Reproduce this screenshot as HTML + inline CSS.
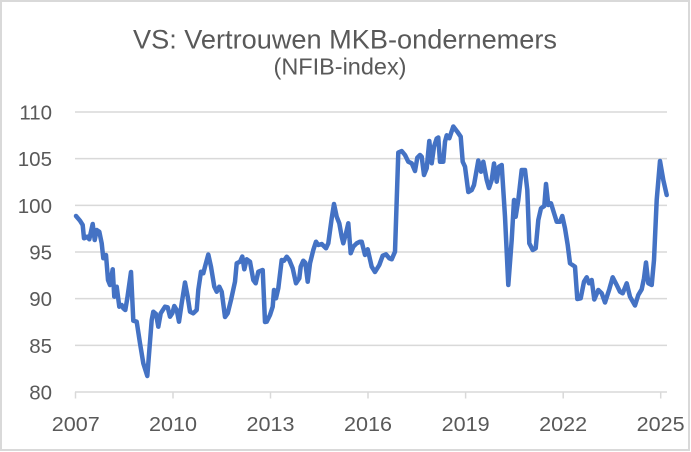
<!DOCTYPE html>
<html>
<head>
<meta charset="utf-8">
<style>
html,body{margin:0;padding:0;background:#fff;}
svg{display:block;}
text{font-family:"Liberation Sans",Arial,sans-serif;fill:#595959;}
</style>
</head>
<body>
<svg width="691" height="452" viewBox="0 0 691 452" xmlns="http://www.w3.org/2000/svg">
<rect x="0" y="0" width="691" height="452" fill="#fff"/>
<rect x="1" y="1" width="688" height="449" fill="none" stroke="#d9d9d9" stroke-width="2"/>
<text x="345" y="48.5" font-size="27" text-anchor="middle" textLength="424" lengthAdjust="spacingAndGlyphs">VS: Vertrouwen MKB-ondernemers</text>
<text x="340" y="74.5" font-size="23.5" text-anchor="middle" textLength="133" lengthAdjust="spacingAndGlyphs">(NFIB-index)</text>
<g stroke="#d9d9d9" stroke-width="1.5">
<line x1="75" y1="112" x2="667" y2="112"/>
<line x1="75" y1="158.67" x2="667" y2="158.67"/>
<line x1="75" y1="205.33" x2="667" y2="205.33"/>
<line x1="75" y1="252" x2="667" y2="252"/>
<line x1="75" y1="298.67" x2="667" y2="298.67"/>
<line x1="75" y1="345.33" x2="667" y2="345.33"/>
<line x1="75" y1="392" x2="667" y2="392"/>
<line x1="75.5" y1="392" x2="75.5" y2="398.5"/>
<line x1="173" y1="392" x2="173" y2="398.5"/>
<line x1="270.5" y1="392" x2="270.5" y2="398.5"/>
<line x1="368" y1="392" x2="368" y2="398.5"/>
<line x1="465.6" y1="392" x2="465.6" y2="398.5"/>
<line x1="563.2" y1="392" x2="563.2" y2="398.5"/>
<line x1="660.7" y1="392" x2="660.7" y2="398.5"/>
</g>
<g font-size="20.5" text-anchor="end">
<text x="52" y="119.5">110</text>
<text x="52" y="166.2">105</text>
<text x="52" y="212.8">100</text>
<text x="52" y="259.5">95</text>
<text x="52" y="306.2">90</text>
<text x="52" y="352.8">85</text>
<text x="52" y="399.5">80</text>
</g>
<g font-size="20.5" text-anchor="middle">
<text x="75.8" y="431" textLength="48" lengthAdjust="spacingAndGlyphs">2007</text>
<text x="173" y="431" textLength="48" lengthAdjust="spacingAndGlyphs">2010</text>
<text x="270.5" y="431" textLength="48" lengthAdjust="spacingAndGlyphs">2013</text>
<text x="368" y="431" textLength="48" lengthAdjust="spacingAndGlyphs">2016</text>
<text x="465.6" y="431" textLength="48" lengthAdjust="spacingAndGlyphs">2019</text>
<text x="563.2" y="431" textLength="48" lengthAdjust="spacingAndGlyphs">2022</text>
<text x="660.7" y="431" textLength="48" lengthAdjust="spacingAndGlyphs">2025</text>
</g>
<polyline fill="none" stroke="#4472C4" stroke-width="4.5" stroke-linejoin="round" stroke-linecap="round" points="
76,216 80,220.7 82.7,225 84,238.3 87.3,236.7 89.3,239.3 92.7,224 94.7,240 96.7,230 99.3,231.7
101.7,243.3 103.3,258.3 106,255 108,280 110,285 112.7,269.3 114.3,296.7 116.7,286.7 119.3,306.7 121.7,305
123.3,308.3 125.3,310 127.3,298.3 131,272 133.3,320.7 136.7,321.7 140,343.3 143.3,363.3 147.3,376 151.7,320
153.3,311.7 156,314 158.3,326.7 160.7,313.3 165,306.7 167.7,307.3 170,316.7 172.3,313.3 174.3,306 176.7,310
179,321.7 181.7,303.3 185,282.5 187.7,296.7 190,311.7 193.3,313.3 196.7,310 198.3,290 201,271.7 203.3,273.3
205,266.7 208.3,254.5 211,266.7 214.3,286.7 216.7,291.7 219.3,286.7 221.7,291.7 225,317 227.7,313.3 231,300
235,281.7 236.7,263.3 240,261.7 242.3,256.5 244.3,269.3 246.7,259.3 250,261.7 253.3,280 255.7,283.3 258.3,271.7
262.7,270 265,322 266.7,321.7 270,315 272.7,306.7 274,290 276,298.3 278.3,288.3 281.7,260 284,260.7
286.7,256.7 289.3,260 292.7,268.3 296,283.3 299.3,278.3 300.7,266.7 303.3,260.7 305.3,262.7 307.7,281.7 310,263.3
313.3,250 316,241.7 318.3,245 321.7,244 326,248.3 328.3,243.3 331.7,218.3 334,204 336.7,216.7 339.3,223.3
341.7,236.7 343.3,243.3 346,233.3 348.3,223.3 350.7,253.3 353.3,246.7 356.7,243.3 360,241.7 361.7,241.7 365,255
367.7,249.3 371.7,266.7 375,272 379.3,265 382.7,255.7 386,254.3 389.3,258.3 391.7,259.3 395,251.7 398.3,152.5
401.7,151 405,155 408.3,161.7 411.7,163.3 415,171 417.3,157.7 420,155 421.7,156.7 424,175 426.7,168.3
429.3,141 431.7,163.3 434,146.7 436.7,138.5 438.3,137.5 440,161.7 443.3,161.7 445,141.7 446.7,135.3 449.3,138.3
453.3,126.5 457.3,131.7 460.7,136.7 462.7,161.7 465,166.7 468.3,192 471.7,190 474,185 478.3,160.5 481,171.7
483.3,161.7 486.7,180 489,188 491.7,180 494,163.5 496.7,181.7 499,166.7 501.7,165 505,216.7 508.3,285
511.7,240 514,200 515.7,216.7 518.3,200 521.7,170 525,170 527.3,190 529.3,243.3 532.7,250 535.7,248.3
538.3,220 541,208.3 544.3,206 546,184 548.3,205 551,203.3 554.3,214 556.7,221.7 560,221.7 562.3,216
565,228.3 567.7,245 570,263.3 575,266.7 577.3,299 580.7,298.3 584,281.7 586.7,277.3 589,283.3 591.7,280
594.3,299.5 598.3,290 601.7,293.3 605,302.5 609.3,289.3 612.7,277.3 616.7,285 620,291.7 622.7,293.3 626.7,283.3
630,296.7 635,305.5 638.3,295 641.7,289.3 644,278.3 646,262.5 648.3,283.3 651.7,285 654,260 656.7,200
660,161 663.3,180 666.7,195"/>
</svg>
</body>
</html>
